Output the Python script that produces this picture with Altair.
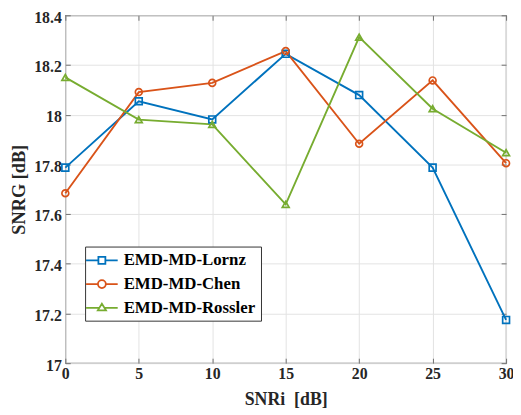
import altair as alt
import pandas as pd

snri = [0, 5, 10, 15, 20, 25, 30]
lornz = [17.787, 18.054, 17.981, 18.245, 18.079, 17.787, 17.174]
chen = [17.684, 18.091, 18.128, 18.256, 17.883, 18.138, 17.805]
rossler = [18.150, 17.980, 17.961, 17.639, 18.312, 18.024, 17.847]
series_names = ["EMD-MD-Lornz", "EMD-MD-Chen", "EMD-MD-Rossler"]
colors = ["#0072BD", "#D95319", "#77AC30"]
marker_shapes = ["square", "circle", "triangle-up"]
x_ticks = [0, 5, 10, 15, 20, 25, 30]
y_ticks = [17, 17.2, 17.4, 17.6, 17.8, 18, 18.2, 18.4]

rows = []
for name, vals in zip(series_names, [lornz, chen, rossler]):
    for x, v in zip(snri, vals):
        rows.append({"SNRi": x, "SNRG": v, "series": name})
df = pd.DataFrame(rows)

FONT = "Liberation Serif"
AX = "#707070"
TXT = "#262626"

xscale = alt.Scale(domain=[0, 30], nice=False)
yscale = alt.Scale(domain=[17, 18.4], nice=False)
cscale = alt.Scale(domain=series_names, range=colors)

x_main = alt.X("SNRi:Q", scale=xscale, axis=alt.Axis(
    values=x_ticks, title="SNRi\u00a0 [dB]", orient="bottom", offset=-5, tickSize=5,
    domain=False, grid=True, gridColor="#e3e3e3", tickColor=AX, labelPadding=3,
    labelFont=FONT, labelFontSize=16, labelFontWeight="bold", labelColor=TXT,
    titleFont=FONT, titleFontSize=18, titleFontWeight="bold", titleColor=TXT,
    titlePadding=9, labelFlush=False))
y_main = alt.Y("SNRG:Q", scale=yscale, axis=alt.Axis(
    values=y_ticks, title="SNRG [dB]", orient="left", offset=-5, tickSize=5,
    domain=False, grid=True, gridColor="#e3e3e3", tickColor=AX, labelPadding=4,
    labelOffset=2,
    labelFont=FONT, labelFontSize=16, labelFontWeight="bold", labelColor=TXT,
    titleFont=FONT, titleFontSize=18.5, titleFontWeight="bold", titleColor=TXT,
    titlePadding=5, labelFlush=False, labelExpr="format(datum.value, '~g')"))

x_sec = alt.X("SNRi:Q", scale=xscale, axis=alt.Axis(
    values=x_ticks, title=None, orient="top", offset=-5, tickSize=5, domain=False,
    grid=False, labels=False, tickColor=AX))
y_sec = alt.Y("SNRG:Q", scale=yscale, axis=alt.Axis(
    values=y_ticks, title=None, orient="right", offset=-5, tickSize=5, domain=False,
    grid=False, labels=False, tickColor=AX))
x_none = alt.X("SNRi:Q", scale=xscale, axis=None)
y_none = alt.Y("SNRG:Q", scale=yscale, axis=None)

# legend symbols: line + marker (custom paths)
path_sq = "M-2,0H-0.44M0.44,0H2M-0.44,-0.44H0.44V0.44H-0.44Z"
path_ci = "M-2,0H-0.5M0.5,0H2M0.5,0A0.5,0.5 0 1,1 -0.5,0A0.5,0.5 0 1,1 0.5,0"
path_tr = "M-2,0H-0.32M0.32,0H2M-0.52,0.32L0,-0.52L0.52,0.32Z"

legend = alt.Legend(
    title=None, orient="none", legendX=20, legendY=234,
    labelFont=FONT, labelFontSize=17, labelFontWeight="bold", labelColor="#000000",
    strokeColor="#333333", fillColor="white", padding=5, rowPadding=7,
    symbolSize=256, symbolStrokeWidth=1.8, symbolFillColor="transparent",
    symbolOffset=3, labelOffset=13, symbolOpacity=1,
)

lines = alt.Chart(df).mark_line(strokeWidth=1.9).encode(
    x=x_main, y=y_main,
    color=alt.Color("series:N", scale=cscale, legend=legend),
    detail="series:N",
)

point_layers = []
for i, (name, shp) in enumerate(zip(series_names, marker_shapes)):
    pl = alt.Chart(df).transform_filter(
        alt.datum.series == name
    ).mark_point(shape=shp, filled=False, strokeWidth=1.7, size=48, opacity=1).encode(
        x=x_sec if i == 0 else x_none,
        y=y_sec if i == 0 else y_none,
        color=alt.Color("series:N", scale=cscale, legend=legend),
    )
    point_layers.append(pl)

legend_layer = alt.Chart(df).mark_point(filled=False, opacity=0, strokeWidth=1.8).encode(
    x=x_none, y=y_none,
    color=alt.Color("series:N", scale=cscale, legend=legend),
    shape=alt.Shape("series:N", scale=alt.Scale(
        domain=series_names, range=[path_sq, path_ci, path_tr]), legend=legend),
)

chart = alt.layer(lines, *point_layers, legend_layer).resolve_axis(
    x="independent", y="independent"
).properties(
    width=446, height=352,
    autosize=alt.AutoSizeParams(type="none"),
    padding={"left": 58, "top": 5, "right": 7, "bottom": 45},
).configure_view(stroke=AX, strokeWidth=1.2)

chart.save("out.html", embed_options={"renderer": "svg", "actions": False})
